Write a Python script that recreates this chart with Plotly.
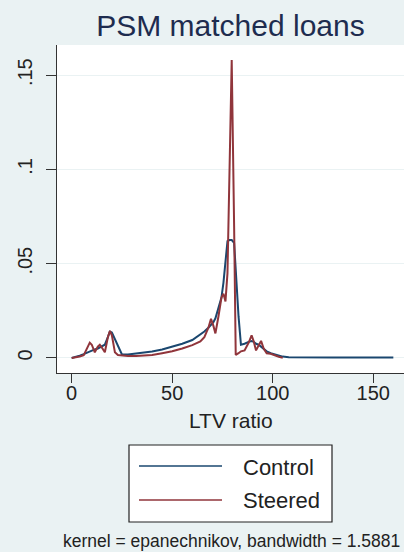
import plotly.graph_objects as go

# ---- data ----
ltv = [0, 2, 4, 6, 8, 9, 10, 11.5, 13, 14, 15, 16.5, 18, 19, 20, 21.5, 23, 25, 28, 32,
       36, 40, 45, 50, 55, 60, 64, 66, 68, 69.3, 70.5, 71.5, 73, 74.5, 75.5, 76.5, 77.5,
       78.5, 79.6, 80.8, 81.6, 83, 84.2, 86, 88, 89.5, 90.5, 91.7, 93, 94.2, 95.5, 97,
       99, 101, 103, 105, 108, 112, 120, 130, 140, 150, 160]

control = [0, 0.0005, 0.0012, 0.002, 0.003, 0.0035, 0.004, 0.0045, 0.005, 0.0055, 0.006,
           0.007, 0.011, 0.014, 0.0135, 0.010, 0.006, 0.0018, 0.0018, 0.0022, 0.0028,
           0.0034, 0.0045, 0.0058, 0.0075, 0.0095, 0.0122, 0.014, 0.016, 0.0175, 0.019,
           0.021, 0.026, 0.032, 0.040, 0.050, 0.062, 0.0625, 0.0625, 0.061, 0.045, 0.022,
           0.007, 0.0075, 0.0085, 0.009, 0.0085, 0.0075, 0.007, 0.006, 0.0045, 0.0035,
           0.0025, 0.0018, 0.0012, 0.0007, 0.0004, 0.0003, 0.0002, 0.0002, 0.0002,
           0.0002, 0.0002]

steered = [0, 0.0003, 0.0008, 0.0015, 0.0055, 0.0081, 0.007, 0.003, 0.006, 0.007, 0.0055,
           0.003, 0.011, 0.0143, 0.012, 0.003, 0.0015, 0.0012, 0.001, 0.001, 0.0012,
           0.0016, 0.0025, 0.0035, 0.005, 0.0068, 0.0087, 0.011, 0.016, 0.0207, 0.017,
           0.013, 0.022, 0.032, 0.034, 0.030, 0.045, 0.11, 0.158, 0.07, 0.0016, 0.0025,
           0.0035, 0.004, 0.008, 0.012, 0.009, 0.004, 0.007, 0.009, 0.005, 0.0025,
           0.0022, 0.0012, 0.0006, 0.0001, None, None, None, None, None, None, None]

x_ticks = [0, 50, 100, 150]
y_ticks = [0, 0.05, 0.1, 0.15]
y_tick_labels = ["0", ".05", ".1", ".15"]
series_names = ["Control", "Steered"]
series_colors = ["#1a476f", "#90353b"]

FONT = "Liberation Sans, Arial, sans-serif"

fig = go.Figure()
for name, vals, col in zip(series_names, [control, steered], series_colors):
    fig.add_trace(go.Scatter(x=ltv, y=vals, mode="lines", name=name,
                             line=dict(color=col, width=2), showlegend=False))

fig.update_layout(
    width=404, height=552,
    margin=dict(l=57, r=0, t=45, b=179),
    paper_bgcolor="#EAF2F3",
    plot_bgcolor="white",
    font=dict(family=FONT, color="#222"),
    title=dict(text="PSM matched loans", x=0.5, xref="paper", xanchor="center",
               y=1 - 25 / 552, yref="container", yanchor="middle",
               font=dict(size=30, color="#1e2c4f", family=FONT)),
    xaxis=dict(range=[-7.3, 165.3], tickvals=x_ticks, showgrid=False, zeroline=False,
               showline=True, linecolor="#333", linewidth=1.2, ticks="outside",
               ticklen=9, tickcolor="#333", tickwidth=1.2,
               tickfont=dict(size=20, color="#222"), ticklabelstandoff=-7),
    yaxis=dict(range=[-0.008, 0.166], tickvals=y_ticks, ticktext=y_tick_labels,
               showgrid=True, gridcolor="#EAF2F3", gridwidth=1, zeroline=False,
               showline=True, linecolor="#333", linewidth=1.2, ticks="outside",
               ticklen=10, tickcolor="#333", tickwidth=1.2, tickangle=-90,
               tickfont=dict(size=20, color="#222"), ticklabelstandoff=6),
)

# x axis title
fig.add_annotation(text="LTV ratio", x=0.5, y=(373 - 420) / 328, xref="paper", yref="paper",
                   xanchor="center", yanchor="middle", showarrow=False,
                   font=dict(size=21, color="#222", family=FONT))

# manual legend box
def px_x(p):
    return (p - 57) / 347

def px_y(p):
    return (373 - p) / 328

fig.add_shape(type="rect", xref="paper", yref="paper",
              x0=px_x(129), x1=px_x(332), y0=px_y(445), y1=px_y(522),
              line=dict(color="#222", width=1.2), fillcolor="white", layer="above")
for i, (name, col) in enumerate(zip(series_names, series_colors)):
    yy = [466, 500][i]
    fig.add_shape(type="line", xref="paper", yref="paper",
                  x0=px_x(139), x1=px_x(222), y0=px_y(yy), y1=px_y(yy),
                  line=dict(color=col, width=1.5), layer="above")
    fig.add_annotation(text=name, x=px_x(241), y=px_y(yy + 1), xref="paper", yref="paper",
                       xanchor="left", yanchor="middle", showarrow=False,
                       font=dict(size=22, color="#222", family=FONT))

fig.add_annotation(text="kernel = epanechnikov, bandwidth = 1.5881", x=px_x(231),
                   y=px_y(541), xref="paper", yref="paper", xanchor="center",
                   yanchor="middle", showarrow=False,
                   font=dict(size=17.5, color="#222", family=FONT))

fig.write_html("out.html", config={"displayModeBar": False},
               post_script="document.body.style.margin='0';document.body.style.overflow='hidden';")
